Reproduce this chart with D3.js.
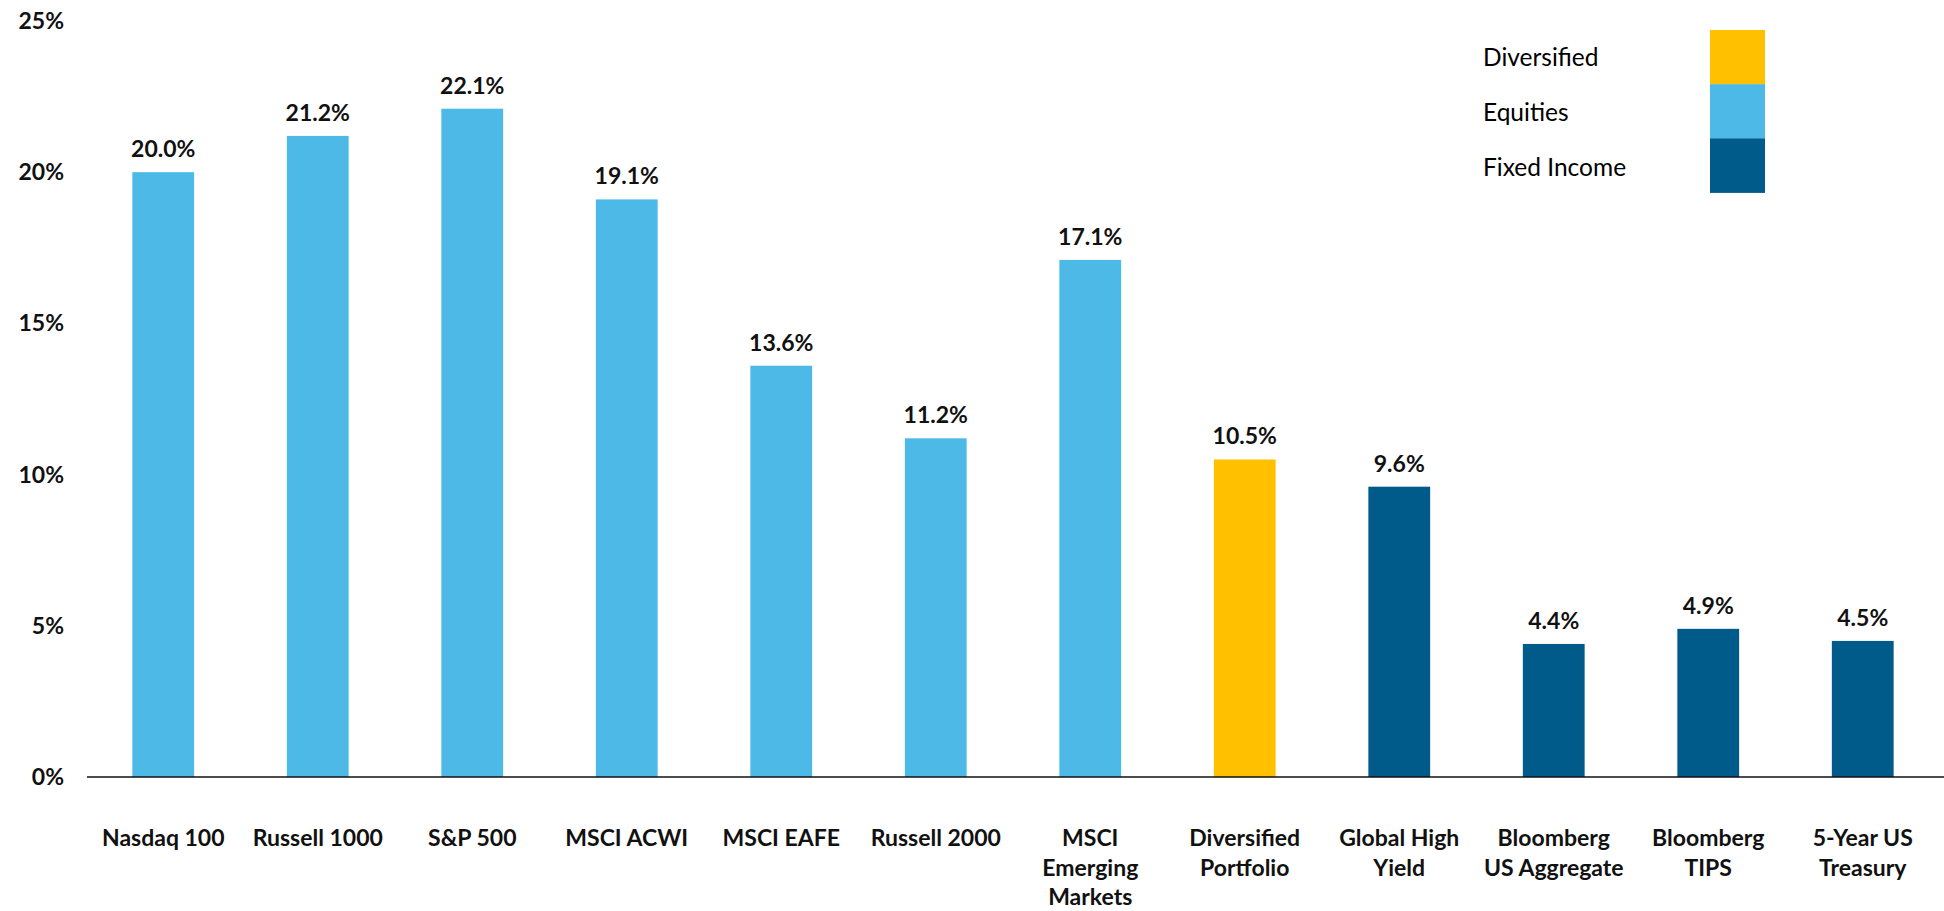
<!DOCTYPE html>
<html><head><meta charset="utf-8">
<script src="https://cdn.jsdelivr.net/npm/d3@7"></script>
<style>
html,body{margin:0;padding:0;background:#fff;}
svg{display:block;font-family:Lato,"Open Sans",sans-serif;}
</style></head>
<body>
<svg id="chart" width="1944" height="911"></svg>
<script>
const categories = [
  ["Nasdaq 100"], ["Russell 1000"], ["S&P 500"], ["MSCI ACWI"], ["MSCI EAFE"], ["Russell 2000"],
  ["MSCI", "Emerging", "Markets"], ["Diversified", "Portfolio"], ["Global High", "Yield"],
  ["Bloomberg", "US Aggregate"], ["Bloomberg", "TIPS"], ["5-Year US", "Treasury"]
];
const values = [20.0, 21.2, 22.1, 19.1, 13.6, 11.2, 17.1, 10.5, 9.6, 4.4, 4.9, 4.5];
const groups = ["Equities","Equities","Equities","Equities","Equities","Equities","Equities",
  "Diversified","Fixed Income","Fixed Income","Fixed Income","Fixed Income"];
const legendItems = ["Diversified", "Equities", "Fixed Income"];
const groupColors = ["#FFC000", "#4CB9E7", "#005B8B"];
const yTicks = [0, 5, 10, 15, 20, 25];

const svg = d3.select("#chart");
const keys = categories.map(c => c.join(" "));
const x = d3.scaleBand().domain(keys).range([86, 1940]).paddingInner(0.6).paddingOuter(0.3);
const y = d3.scaleLinear().domain([0, 25]).range([777, 21]);
const color = d3.scaleOrdinal().domain(legendItems).range(groupColors);

// y tick labels
svg.append("g").selectAll("text").data(yTicks).join("text")
  .attr("x", 64).attr("y", d => y(d)).attr("dy", "0.35em")
  .attr("text-anchor", "end").attr("font-size", 23).attr("font-weight", 700).attr("fill", "#111")
  .text(d => d + "%");

// bars
svg.append("g").selectAll("rect").data(values).join("rect")
  .attr("x", (d, i) => x(keys[i])).attr("width", x.bandwidth())
  .attr("y", d => y(d)).attr("height", d => y(0) - y(d))
  .attr("fill", (d, i) => color(groups[i]));

// value labels
svg.append("g").selectAll("text").data(values).join("text")
  .attr("x", (d, i) => x(keys[i]) + x.bandwidth() / 2).attr("y", d => y(d) - 15)
  .attr("text-anchor", "middle").attr("font-size", 23).attr("font-weight", 700).attr("fill", "#111")
  .text(d => d.toFixed(1) + "%");

// axis line
svg.append("line").attr("x1", 87).attr("x2", 1944).attr("y1", y(0)).attr("y2", y(0))
  .attr("stroke", "#111").attr("stroke-width", 1.5);

// x labels
const xl = svg.append("g").selectAll("text").data(categories).join("text")
  .attr("x", (d, i) => x(keys[i]) + x.bandwidth() / 2).attr("y", 846)
  .attr("text-anchor", "middle").attr("font-size", 23).attr("font-weight", 700).attr("fill", "#111");
xl.selectAll("tspan").data(d => d).join("tspan")
  .attr("x", function() { return d3.select(this.parentNode).attr("x"); })
  .attr("dy", (d, j) => j === 0 ? 0 : 29.5).text(d => d);

// legend
const lg = svg.append("g");
legendItems.forEach((k, i) => {
  lg.append("rect").attr("x", 1710).attr("y", 30 + i * 54.2).attr("width", 55).attr("height", 54.5).attr("fill", color(k));
  lg.append("text").attr("x", 1483).attr("y", 57 + i * 55).attr("dy", "0.35em")
    .attr("font-size", 24.5).attr("font-weight", 400).attr("fill", "#000").text(k);
});
</script>
</body></html>
